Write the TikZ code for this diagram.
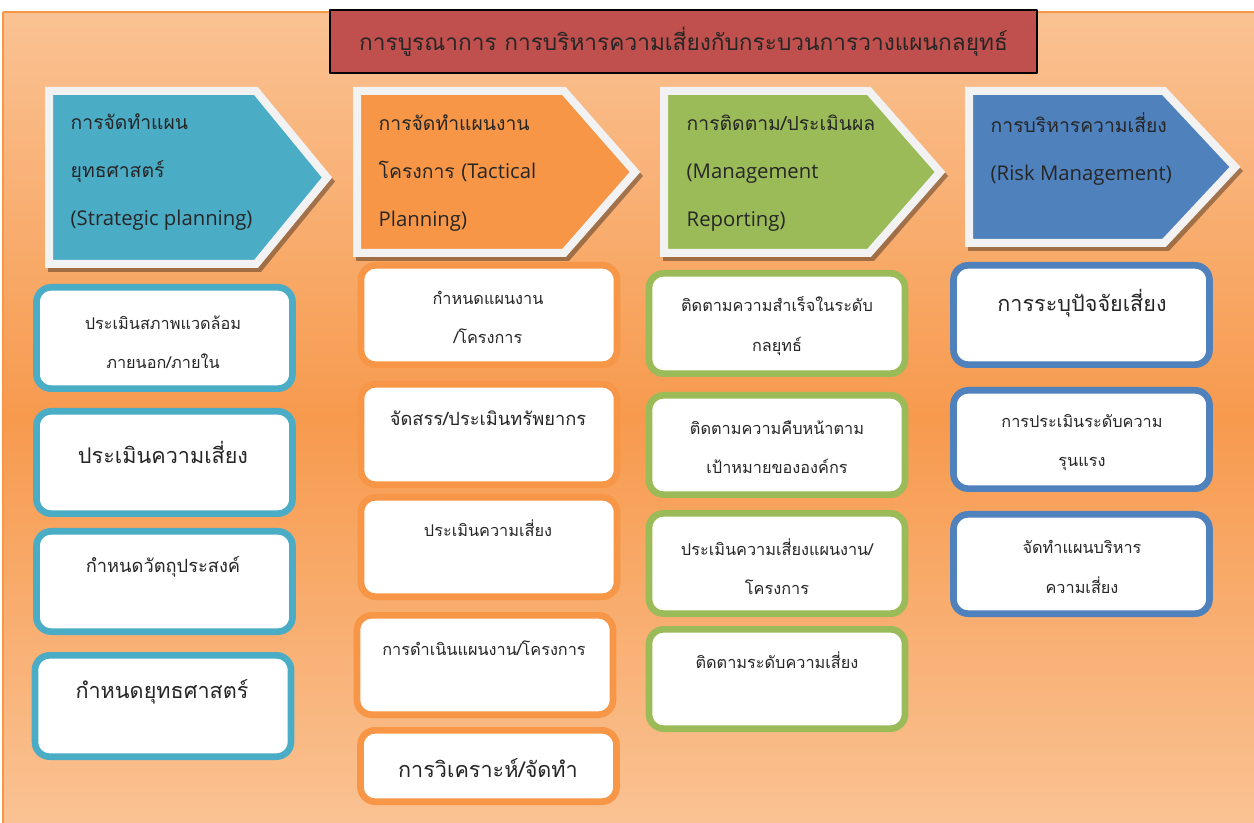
\documentclass[tikz,border=0pt]{standalone}
\usepackage{fontspec}
\setmainfont[Script=Thai]{Loma}
\newfontfamily\latn[Scale=1.05]{Open Sans}
\usetikzlibrary{positioning}

\definecolor{bgtop}{HTML}{FAC293}
\definecolor{bgmid}{HTML}{F79A4E}
\definecolor{bgrim}{HTML}{F79646}
\definecolor{titlered}{HTML}{C0504D}
\definecolor{hblue}{HTML}{4BACC6}
\definecolor{horange}{HTML}{F79646}
\definecolor{hgreen}{HTML}{9BBB59}
\definecolor{hnavy}{HTML}{4F81BD}
\definecolor{hrim}{HTML}{F2F2F2}
\definecolor{ink}{HTML}{262626}

\begin{document}
\begin{tikzpicture}[x=0.75pt,y=-0.75pt,line join=round,
  headtxt/.style={anchor=west,align=left,text=ink,font=\fontsize{14.5pt}{36pt}\selectfont},
  card/.style={draw=#1,fill=white,line width=5pt,rounded corners=11pt,minimum width=192pt,inner sep=0pt},
  txts/.style={align=center,text=ink,font=\fontsize{12.2pt}{29.5pt}\selectfont},
  txtm/.style={align=center,text=ink,font=\fontsize{13.7pt}{29.5pt}\selectfont},
  txtl/.style={align=center,text=ink,font=\fontsize{16.2pt}{29.5pt}\selectfont}]

\useasboundingbox (0,0) rectangle (1254,823);

% background
\fill[white] (0,0) rectangle (1254,823);
\shade[top color=bgtop,bottom color=bgtop,middle color=bgmid] (3,12) rectangle (1254,823);
\draw[bgrim,line width=1.5pt] (3,12) -- (1254,12) (3,12) -- (3,823);

% title
\node[draw=black,fill=titlered,line width=1.5pt,minimum width=530pt,minimum height=47pt,
  text=ink,font=\fontsize{17pt}{19pt}\selectfont] (title) at (683.5,41.5)
  {การบูรณาการ การบริหารความเสี่ยงกับกระบวนการวางแผนกลยุทธ์};

% header arrows
\foreach \xa/\xb/\ya/\yb/\cc in {45/332/87/268/hblue, 353/640/87/257/horange, 660/945/87/257/hgreen, 965/1240/87/247/hnavy} {
  \fill[black,opacity=.35] (\xa+3,\ya+4) -- (\xb-71,\ya+4) -- (\xb+3,{(\ya+\yb)/2+4}) -- (\xb-71,\yb+4) -- (\xa+3,\yb+4) -- cycle;
  \draw[hrim,fill=\cc,line width=6pt,line join=miter] (\xa+4,\ya+4) -- (\xb-76,\ya+4) -- (\xb-5,{(\ya+\yb)/2}) -- (\xb-76,\yb-4) -- (\xa+4,\yb-4) -- cycle;
}
\node[headtxt] (h1t) at (66,172) {การจัดทำแผน\\ยุทธศาสตร์\\{\latn(Strategic planning)}};
\node[headtxt] (h2t) at (374,173) {การจัดทำแผนงาน\\โครงการ {\latn(Tactical}\\{\latn Planning)}};
\node[headtxt] (h3t) at (682,173) {การติดตาม/ประเมินผล\\{\latn(Management}\\{\latn Reporting)}};
\node[headtxt] (h4t) at (986,149) {การบริหารความเสี่ยง\\{\latn(Risk Management)}};

% cards: name/x/y/height/colour
\foreach \nm/\cx/\cy/\hh/\cc in {c1a/164.5/338/108/hblue, c1b/164.5/462.5/109/hblue, c1c/164.5/581.5/107/hblue, c1d/163/706/108/hblue,
  c2a/489/315/106/horange, c2b/489/434.5/107/horange, c2c/489/547/106/horange, c2d/485/665/106/horange, c2e/488.5/766/78/horange,
  c3a/777/323.5/107/hgreen, c3b/777/445/106/hgreen, c3c/777/563.5/107/hgreen, c3d/777/679/106/hgreen,
  c4a/1081.5/315/106/hnavy, c4b/1081.5/439.5/105/hnavy, c4c/1081.5/564/106/hnavy} {
  \node[card=\cc,minimum height=\hh*0.75pt-5pt] (\nm) at (\cx,\cy) {};
}

% card texts
\node[txts] (c1a-t) at (163,342) {ประเมินสภาพแวดล้อม\\ภายนอก/ภายใน};
\node[txtl] (c1b-t) at (163,452) {ประเมินความเสี่ยง};
\node[txtm] (c1c-t) at (163,567) {กำหนดวัตถุประสงค์};
\node[txtl] (c1d-t) at (162,692) {กำหนดยุทธศาสตร์};

\node[txts] (c2a-t) at (488,317.5) {กำหนดแผนงาน\\/โครงการ};
\node[txtm] (c2b-t) at (488,418) {จัดสรร/ประเมินทรัพยากร};
\node[txts] (c2c-t) at (488,528) {ประเมินความเสี่ยง};
\node[txts] (c2d-t) at (484,648) {การดำเนินแผนงาน/โครงการ};
\node[txtl] (c2e-t) at (488,768) {การวิเคราะห์/จัดทำ};

\node[txts] (c3a-t) at (777,326) {ติดตามความสำเร็จในระดับ\\กลยุทธ์};
\node[txts] (c3b-t) at (777,447.5) {ติดตามความคืบหน้าตาม\\เป้าหมายขององค์กร};
\node[txts] (c3c-t) at (777,567) {ประเมินความเสี่ยงแผนงาน/\\โครงการ};
\node[txts] (c3d-t) at (777,660) {ติดตามระดับความเสี่ยง};

\node[txtl] (c4a-t) at (1082,303) {การระบุปัจจัยเสี่ยง};
\node[txts] (c4b-t) at (1082,442.5) {การประเมินระดับความ\\รุนแรง};
\node[txts] (c4c-t) at (1082,567) {จัดทำแผนบริหาร\\ความเสี่ยง};

\end{tikzpicture}
\end{document}
